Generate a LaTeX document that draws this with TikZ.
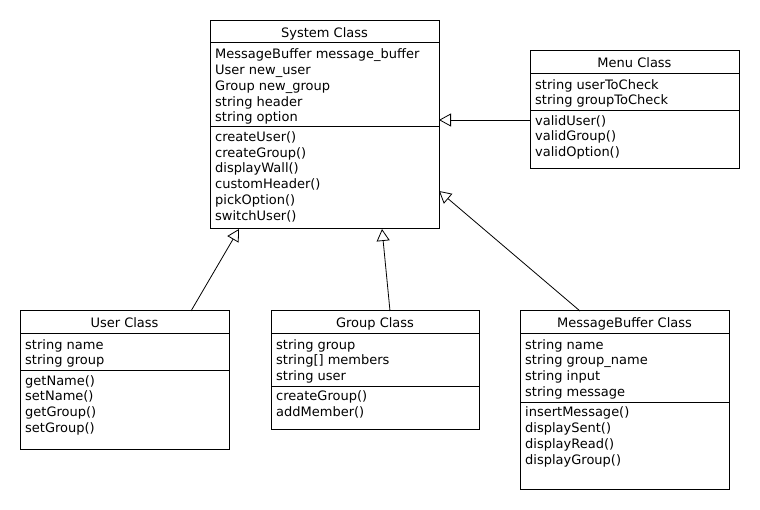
\documentclass[tikz,border=0pt]{standalone}
\usepackage{fontspec}
\setmainfont{DejaVu Sans}
\usetikzlibrary{arrows.meta,calc}
\tikzset{
  cbox/.style={draw, line width=1pt, rectangle, anchor=north west, inner sep=0pt, outer sep=0pt},
  cline/.style={line width=1pt},
  ctitle/.style={anchor=base, inner sep=0pt, font=\fontsize{13}{15.8}\selectfont},
  ctext/.style={anchor=north west, inner sep=0pt, align=left, font=\fontsize{13}{15.8}\selectfont},
  gen/.style={line width=0.8pt, -{Triangle[open, length=12pt, width=13pt, line width=0.8pt]}}
}
\newcommand\classbox[9]{%
  \node[cbox, minimum width=#4pt, minimum height=#5pt] (#1) at (#2,#3) {};
  \node[ctitle] (#1-t) at ($(#1.north)+(0,17)$) {#7};
  \draw[cline] ($(#1.north west)+(0,22.5)$) -- ($(#1.north east)+(0,22.5)$);
  \draw[cline] ($(#1.north west)+(0,#6)$) -- ($(#1.north east)+(0,#6)$);
  \node[ctext] (#1-a) at ($(#1.north west)+(5,28.1)$) {#8};
  \node[ctext] (#1-m) at ($(#1.north west)+(5,#6+4.3)$) {#9};
}
\begin{document}
\begin{tikzpicture}[x=1pt,y=-1pt]
\useasboundingbox (0,0) rectangle (760,510);
\fill[white] (0,0) rectangle (760,510);
\classbox{sys}{210}{20.5}{229}{208.5}{106.5}{System Class}
  {MessageBuffer message\_buffer\\User new\_user\\Group new\_group\\string header\\string option}
  {createUser()\\createGroup()\\displayWall()\\customHeader()\\pickOption()\\switchUser()}
\classbox{menu}{530}{51}{209}{118}{59.7}{Menu Class}
  {string userToCheck\\string groupToCheck}
  {validUser()\\validGroup()\\validOption()}
\classbox{user}{20}{311}{209}{138}{59.7}{User Class}
  {string name\\string group}
  {getName()\\setName()\\getGroup()\\setGroup()}
\classbox{group}{271}{311}{208}{118}{75.3}{Group Class}
  {string group\\string[] members\\string user}
  {createGroup()\\addMember()}
\classbox{mb}{520}{311}{209}{178}{91.6}{MessageBuffer Class}
  {string name\\string group\_name\\string input\\string message}
  {insertMessage()\\displaySent()\\displayRead()\\displayGroup()}
\draw[gen] ($(user.north west)+(171,0)$) -- ($(sys.south west)+(29,0)$);
\draw[gen] ($(group.north west)+(119,0)$) -- ($(sys.south west)+(172,0)$);
\draw[gen] ($(mb.north west)+(60,0)$) -- ($(sys.north east)+(0,170.5)$);
\draw[gen] ($(menu.north west)+(0,69)$) -- ($(sys.north east)+(0,99.5)$);
\end{tikzpicture}
\end{document}
